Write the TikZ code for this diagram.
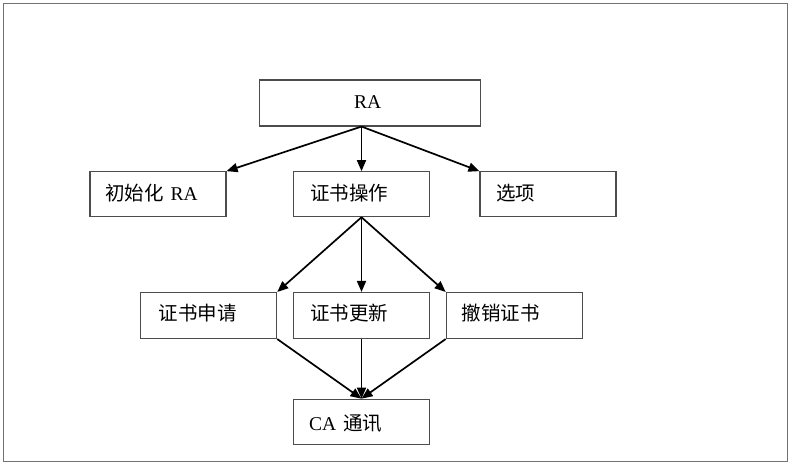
\documentclass[tikz,border=0pt]{standalone}
\usepackage{fontspec}
\setmainfont{Liberation Serif}
\newfontfamily\cjk{Noto Sans CJK SC}
\usetikzlibrary{arrows.meta}
\begin{document}
\begin{tikzpicture}[x=1pt,y=-1pt,
  box/.style={draw=black!70,line width=1.1pt,rectangle,inner sep=0pt,minimum width=136pt,minimum height=45pt},
  txt/.style={anchor=base west,inner sep=0pt,font=\fontsize{19.5}{22}\selectfont},
  arr/.style={draw=black,line width=1.7pt,-{Triangle[length=11pt,width=9pt]}},
  frame/.style={draw=black!55,line width=1.6pt}]
\useasboundingbox (0,0) rectangle (794,468);
\draw[frame] (3.5,3.5) rectangle (787.5,461.5);
% boxes
\node[box,minimum width=221pt,minimum height=46pt] (ra) at (370,103) {};
\node[box] (init) at (158,194.2) {};
\node[box] (ops) at (361.5,194.2) {};
\node[box] (opt) at (548,194.2) {};
\node[box,minimum height=46pt] (apply) at (208.7,315.5) {};
\node[box,minimum height=46pt] (upd) at (361.5,315.5) {};
\node[box,minimum height=46pt] (rev) at (514.2,315.5) {};
\node[box] (ca) at (361.5,421.7) {};
% texts
\node[txt] (tra) at (354,109) {RA};
\node[txt] (tinit) at (105,200) {{\cjk 初始化}\hspace{7pt}RA};
\node[txt] (tops) at (310,200) {\cjk 证书操作};
\node[txt] (topt) at (496,200) {\cjk 选项};
\node[txt] (tapply) at (158.3,320.5) {\cjk 证书申请};
\node[txt] (tupd) at (310,320.5) {\cjk 证书更新};
\node[txt] (trev) at (461.7,320.5) {\cjk 撤销证书};
\node[txt] (tca) at (309,430) {CA\hspace{7pt}{\cjk 通讯}};
% connectors
\coordinate (raout) at (ra.south -| ops.north);
\draw[arr] (raout) -- (init.north east);
\draw[arr] (raout) -- (ops.north);
\draw[arr] (raout) -- (opt.north west);
\draw[arr] (ops.south) -- (apply.north east);
\draw[arr] (ops.south) -- (upd.north);
\draw[arr] (ops.south) -- (rev.north west);
\draw[arr] (apply.south east) -- (ca.north);
\draw[arr] (upd.south) -- (ca.north);
\draw[arr] (rev.south west) -- (ca.north);
\end{tikzpicture}
\end{document}
